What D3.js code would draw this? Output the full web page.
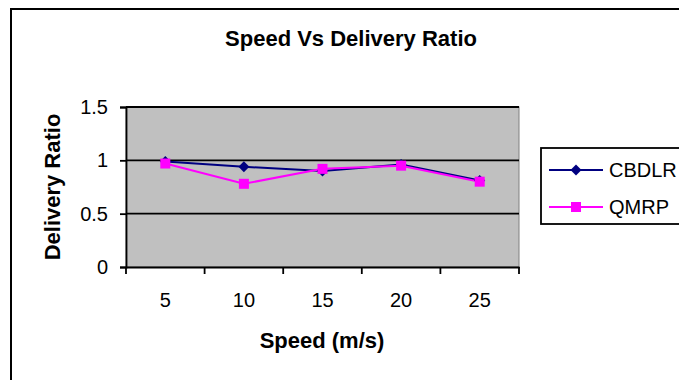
<!DOCTYPE html>
<html>
<head>
<meta charset="utf-8">
<script src="https://cdn.jsdelivr.net/npm/d3@7"></script>
<style>
  html, body { margin: 0; padding: 0; background: #fff; }
  svg { display: block; font-family: "Liberation Sans", Arial, sans-serif; }
</style>
</head>
<body>
<svg id="chart" width="679" height="380"></svg>
<script>
// Delivery ratio measured at each node speed
const speeds = ["5", "10", "15", "20", "25"];
const cbdlr = [0.99, 0.94, 0.90, 0.96, 0.81];
const qmrp  = [0.97, 0.78, 0.92, 0.95, 0.80];
const yTicks = [0, 0.5, 1, 1.5];
const seriesNames = ["CBDLR", "QMRP"];
const seriesColors = ["#000080", "#ff00ff"];

const svg = d3.select("#chart");
const FONT = "Liberation Sans, Arial, sans-serif";

// chart frame (runs off the right and bottom edges)
svg.append("rect")
  .attr("x", 11).attr("y", 9)
  .attr("width", 700).attr("height", 400)
  .attr("fill", "#fff").attr("stroke", "#000").attr("stroke-width", 2);

const plot = { left: 126, right: 519, top: 107, bottom: 267 };

const x = d3.scaleBand().domain(speeds).range([plot.left, plot.right]);
const y = d3.scaleLinear().domain([0, 1.5]).range([plot.bottom, plot.top]);

// plot area
svg.append("rect")
  .attr("x", plot.left).attr("y", plot.top)
  .attr("width", plot.right - plot.left).attr("height", plot.bottom - plot.top)
  .attr("fill", "#c0c0c0").attr("stroke", "#808080").attr("stroke-width", 1);

// horizontal gridlines
svg.append("g").selectAll("line")
  .data(yTicks.filter(d => d > 0))
  .join("line")
  .attr("x1", plot.left).attr("x2", plot.right)
  .attr("y1", d => y(d)).attr("y2", d => y(d))
  .attr("stroke", "#000").attr("stroke-width", 1.8);

// y axis
const yAxis = svg.append("g")
  .attr("transform", `translate(${plot.left},0)`)
  .call(d3.axisLeft(y).tickValues(yTicks).tickSize(6).tickPadding(12)
    .tickFormat(d => d3.format("")(d)));
yAxis.select(".domain").attr("stroke", "#000").attr("stroke-width", 1.8);
yAxis.selectAll(".tick line").attr("stroke", "#000").attr("stroke-width", 1.8);
yAxis.selectAll(".tick text").attr("font-size", 20).attr("fill", "#000")
  .attr("font-family", FONT);

// x axis: ticks sit on category boundaries
const xAxis = svg.append("g")
  .attr("transform", `translate(0,${plot.bottom})`)
  .call(d3.axisBottom(x).tickSize(0).tickPadding(26));
xAxis.select(".domain").attr("stroke", "#000").attr("stroke-width", 1.8);
xAxis.selectAll(".tick text").attr("font-size", 20).attr("fill", "#000")
  .attr("font-family", FONT);
xAxis.selectAll(".bound")
  .data(speeds.map(s => x(s)).concat([x(speeds[speeds.length - 1]) + x.bandwidth()]))
  .join("line")
  .attr("class", "bound")
  .attr("x1", d => d).attr("x2", d => d)
  .attr("y1", 0).attr("y2", 7)
  .attr("stroke", "#000").attr("stroke-width", 1.8);

// series lines and markers
const cx = s => x(s) + x.bandwidth() / 2;
const lineGen = d3.line().x(d => cx(d.s)).y(d => y(d.v));
const allSeries = [cbdlr, qmrp];

allSeries.forEach((vals, i) => {
  const pts = speeds.map((s, j) => ({ s, v: vals[j] }));
  svg.append("path")
    .datum(pts)
    .attr("d", lineGen)
    .attr("fill", "none")
    .attr("stroke", seriesColors[i])
    .attr("stroke-width", 2);
});

function marker(g, kind, color, px, py) {
  if (kind === 0) {
    g.append("path")
      .attr("d", d3.symbol(d3.symbolSquare, 60)())
      .attr("transform", `translate(${px},${py}) rotate(45)`)
      .attr("fill", color);
  } else {
    g.append("rect")
      .attr("x", px - 5).attr("y", py - 5)
      .attr("width", 10).attr("height", 10)
      .attr("fill", color);
  }
}

allSeries.forEach((vals, i) => {
  const g = svg.append("g");
  speeds.forEach((s, j) => marker(g, i, seriesColors[i], cx(s), y(vals[j])));
});

// title
svg.append("text")
  .attr("x", 351).attr("y", 46)
  .attr("text-anchor", "middle")
  .attr("font-size", 22).attr("font-weight", "bold")
  .text("Speed Vs Delivery Ratio");

// axis titles
svg.append("text")
  .attr("x", 322).attr("y", 348)
  .attr("text-anchor", "middle")
  .attr("font-size", 22).attr("font-weight", "bold")
  .text("Speed (m/s)");

svg.append("text")
  .attr("transform", "translate(60,187) rotate(-90)")
  .attr("text-anchor", "middle")
  .attr("font-size", 22).attr("font-weight", "bold")
  .text("Delivery Ratio");

// legend
const legend = svg.append("g");
legend.append("rect")
  .attr("x", 541).attr("y", 148)
  .attr("width", 200).attr("height", 76)
  .attr("fill", "#fff").attr("stroke", "#000").attr("stroke-width", 1.8);
const legendRows = [170, 207];
seriesNames.forEach((name, i) => {
  const ry = legendRows[i];
  legend.append("line")
    .attr("x1", 549).attr("x2", 603)
    .attr("y1", ry).attr("y2", ry)
    .attr("stroke", seriesColors[i]).attr("stroke-width", 2);
  marker(legend, i, seriesColors[i], 576, ry);
  legend.append("text")
    .attr("x", 609).attr("y", ry + 7)
    .attr("font-size", 20)
    .text(name);
});
</script>
</body>
</html>
